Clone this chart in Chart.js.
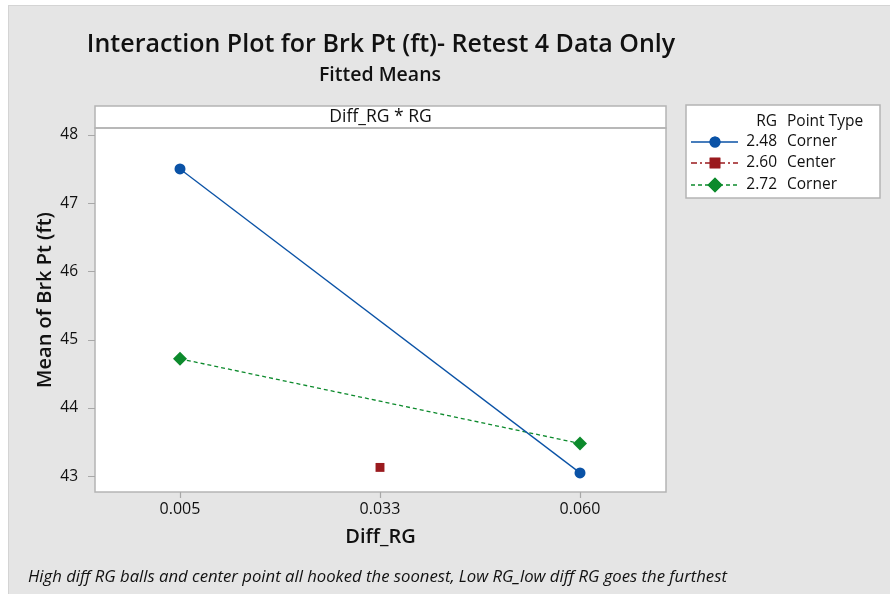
<!DOCTYPE html>
<html><head><meta charset="utf-8">
<script src="https://cdn.jsdelivr.net/npm/chart.js@4"></script>
<style>html,body{margin:0;padding:0;background:#fff;}#wrap{width:890px;height:594px;position:relative;}</style>
</head><body><div id="wrap"><canvas id="c" width="890" height="594"></canvas></div>
<script>
const categories = ['0.005', '0.033', '0.060'];
const rgLevels = ['2.48', '2.60', '2.72'];
const pointTypes = ['Corner', 'Center', 'Corner'];
const rg248 = [47.50, null, 43.05];
const rg260 = [null, 43.13, null];
const rg272 = [44.72, null, 43.48];
const yTicks = [43, 44, 45, 46, 47, 48];

const FONT = '"Open Sans", "Noto Sans", sans-serif';
const colors = ['#0a52a6', '#9a1a1e', '#0c8a2c'];
const shapes = ['circle', 'rect', 'rectRot'];
const radii = [5.5, 6.3, 7];
const legendRadii = [5.5, 7.5, 7.5];
const dashes = [[], [6, 3, 2, 3], [4, 3]];

function toPts(arr) {
  const out = [];
  arr.forEach((v, i) => { if (v !== null) out.push({x: i, y: v}); });
  return out;
}
const seriesVals = [rg248, rg260, rg272];
const datasets = seriesVals.map((arr, k) => ({
  label: rgLevels[k] + ' ' + pointTypes[k],
  data: toPts(arr),
  borderColor: colors[k],
  backgroundColor: colors[k],
  borderWidth: 1.3,
  borderDash: dashes[k],
  pointStyle: shapes[k],
  pointRadius: radii[k],
  pointBorderWidth: 0,
  pointBackgroundColor: colors[k],
  showLine: true,
  tension: 0
}));

const deco = {
  id: 'deco',
  beforeDraw(chart) {
    const ctx = chart.ctx;
    ctx.save();
    ctx.fillStyle = '#e5e5e5';
    ctx.fillRect(8, 5, 882, 589);
    ctx.fillStyle = '#d4d4d4';
    ctx.fillRect(8, 5, 882, 1);
    ctx.fillRect(8, 5, 1, 589);
    const a = chart.chartArea;
    ctx.fillStyle = '#ffffff';
    ctx.fillRect(a.left, a.top, a.right - a.left, a.bottom - a.top);
    ctx.fillRect(a.left, 106, a.right - a.left, a.top - 106);
    ctx.strokeStyle = '#b4b4b4';
    ctx.lineWidth = 1.5;
    ctx.strokeRect(a.left, 106, a.right - a.left, a.top - 106);
    ctx.restore();
  },
  afterDraw(chart) {
    const ctx = chart.ctx;
    const a = chart.chartArea;
    const xs = chart.scales.x, ys = chart.scales.y;
    ctx.save();
    ctx.strokeStyle = '#b4b4b4';
    ctx.lineWidth = 1.5;
    ctx.strokeRect(a.left, a.top, a.right - a.left, a.bottom - a.top);
    ctx.strokeStyle = '#a8a8a8';
    ctx.lineWidth = 1.2;
    ctx.beginPath();
    yTicks.forEach(v => { const y = Math.round(ys.getPixelForValue(v)) + 0.5; ctx.moveTo(a.left - 7, y); ctx.lineTo(a.left, y); });
    categories.forEach((c, i) => { const x = Math.round(xs.getPixelForValue(i)) + 0.5; ctx.moveTo(x, a.bottom); ctx.lineTo(x, a.bottom + 6); });
    ctx.stroke();

    ctx.fillStyle = '#111';
    ctx.textAlign = 'center';
    ctx.textBaseline = 'middle';
    ctx.font = '600 25px ' + FONT;
    ctx.fillText('Interaction Plot for Brk Pt (ft)- Retest 4 Data Only', 381, 45);
    ctx.font = '600 19.5px ' + FONT;
    ctx.fillText('Fitted Means', 380, 75);
    ctx.font = '17.5px ' + FONT;
    ctx.fillText('Diff_RG * RG', (a.left + a.right) / 2, 117);
    ctx.font = '600 20px ' + FONT;
    ctx.fillText('Diff_RG', (a.left + a.right) / 2, 537);
    ctx.save();
    ctx.translate(45, 300);
    ctx.rotate(-Math.PI / 2);
    ctx.fillText('Mean of Brk Pt (ft)', 0, 0);
    ctx.restore();
    ctx.font = 'italic 16.7px ' + FONT;
    ctx.textAlign = 'left';
    ctx.fillText('High diff RG balls and center point all hooked the soonest, Low RG_low diff RG goes the furthest', 28, 577);
    ctx.fillStyle = '#ffffff';
    ctx.fillRect(686, 105, 194, 93);
    ctx.strokeStyle = '#b4b4b4';
    ctx.lineWidth = 1.5;
    ctx.strokeRect(686, 105, 194, 93);
    ctx.fillStyle = '#111';
    ctx.font = '500 15.5px ' + FONT;
    ctx.textAlign = 'right';
    ctx.fillText('RG', 777, 122);
    ctx.textAlign = 'left';
    ctx.fillText('Point Type', 787, 122);
    const rowsY = [142, 163, 185];
    chart.data.datasets.forEach((ds, k) => {
      const y = rowsY[k];
      ctx.strokeStyle = ds.borderColor;
      ctx.lineWidth = 1.5;
      ctx.setLineDash(ds.borderDash);
      ctx.beginPath(); ctx.moveTo(691, y); ctx.lineTo(738, y); ctx.stroke();
      ctx.setLineDash([]);
      ctx.fillStyle = ds.borderColor;
      Chart.helpers.drawPoint(ctx, {pointStyle: ds.pointStyle, radius: legendRadii[k], borderWidth: 0}, 715, y);
      ctx.fill();
      ctx.fillStyle = '#111';
      ctx.textAlign = 'right';
      ctx.fillText(rgLevels[k], 777, y);
      ctx.textAlign = 'left';
      ctx.fillText(pointTypes[k], 787, y);
    });
    ctx.restore();
  }
};

new Chart(document.getElementById('c'), {
  type: 'scatter',
  data: { datasets },
  options: {
    responsive: false,
    animation: false,
    layout: { padding: { top: 128, left: 34, right: 224, bottom: 0 } },
    plugins: { legend: { display: false }, tooltip: { enabled: false }, title: { display: false } },
    scales: {
      x: {
        type: 'linear', min: -0.425, max: 2.43,
        afterBuildTicks(s) { s.ticks = categories.map((c, i) => ({value: i})); },
        afterFit(s) { s.height = 102; },
        grid: { display: false },
        border: { display: false },
        ticks: { callback: (v) => categories[v], color: '#111', font: { family: FONT, size: 16, weight: '500' }, padding: 0 }
      },
      y: {
        min: 42.77, max: 48.10,
        afterBuildTicks(s) { s.ticks = yTicks.map(v => ({value: v})); },
        afterFit(s) { s.width = 61; },
        grid: { display: false },
        border: { display: false },
        ticks: { color: '#111', font: { family: FONT, size: 15.5, weight: '500' }, padding: 9 }
      }
    }
  },
  plugins: [deco]
});
</script></body></html>
